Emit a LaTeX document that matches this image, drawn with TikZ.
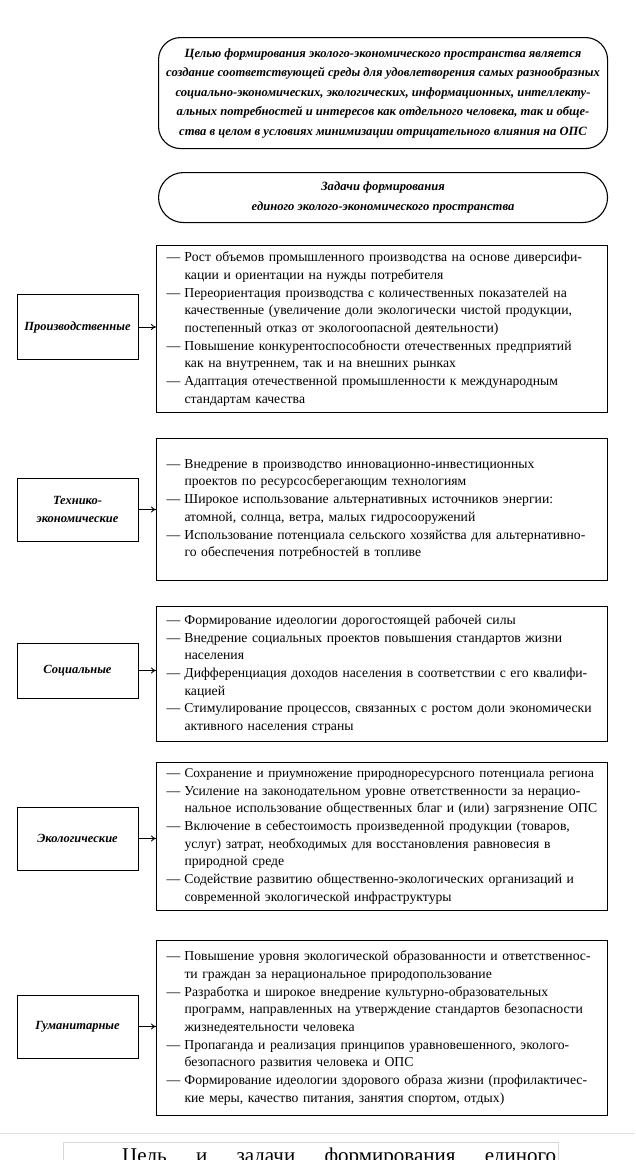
\documentclass[tikz,border=0pt]{standalone}
\usepackage{fontspec}
\setmainfont{Liberation Serif}
\usetikzlibrary{arrows.meta}
\newcommand{\itm}[1]{\hspace*{10pt}\makebox[18pt][l]{—}\mbox{#1}}
\newcommand{\cnt}[1]{\hspace*{28pt}\mbox{#1}}

\begin{document}
\begin{tikzpicture}[x=1pt,y=-1pt,
    goal/.style={draw, line width=1.1pt, rounded corners=22pt, anchor=north west,
      minimum width=449pt, align=center, inner sep=0pt,
      font=\fontsize{12.6}{19.5}\selectfont\bfseries\itshape},
    task/.style={draw, line width=1pt, anchor=north west, text width=451pt,
      inner xsep=0pt, inner ysep=0pt, align=left,
      font=\fontsize{13.7}{17.7}\selectfont},
    kind/.style={draw, line width=1pt, minimum width=121pt, minimum height=65pt,
      align=center, inner sep=2pt,
      font=\fontsize{12.5}{18.5}\selectfont\bfseries\itshape},
    >={To[length=5pt,width=6pt]}]
    \useasboundingbox (0,0) rectangle (635,1160);

    % Goal and heading
    \node[goal, minimum height=111pt] (goal) at (158,37) {%
      Целью формирования эколого-экономического пространства является\\
      создание соответствующей среды для удовлетворения самых разнообразных\\
      социально-экономических, экологических, информационных, интеллекту-\\
      альных потребностей и интересов как отдельного человека, так и обще-\\
      ства в целом в условиях минимизации отрицательного влияния на ОПС};
    \node[goal, minimum height=50pt, rounded corners=25pt] (tasks) at (158,172) {%
      Задачи формирования\\
      единого эколого-экономического пространства};

    % Task groups
    \node[task, minimum height=167pt] (t1) at (156,245) {%
      \itm{Рост объемов промышленного производства на основе диверсифи-}\\
      \cnt{кации и ориентации на нужды потребителя}\\
      \itm{Переориентация производства с количественных показателей на}\\
      \cnt{качественные (увеличение доли экологически чистой продукции,}\\
      \cnt{постепенный отказ от экологоопасной деятельности)}\\
      \itm{Повышение конкурентоспособности отечественных предприятий}\\
      \cnt{как на внутреннем, так и на внешних рынках}\\
      \itm{Адаптация отечественной промышленности к международным}\\
      \cnt{стандартам качества}};
    \node[task, minimum height=142pt] (t2) at (156,438) {%
      \itm{Внедрение в производство инновационно-инвестиционных}\\
      \cnt{проектов по ресурсосберегающим технологиям}\\
      \itm{Широкое использование альтернативных источников энергии:}\\
      \cnt{атомной, солнца, ветра, малых гидросооружений}\\
      \itm{Использование потенциала сельского хозяйства для альтернативно-}\\
      \cnt{го обеспечения потребностей в топливе}};
    \node[task, minimum height=135pt] (t3) at (156,606) {%
      \itm{Формирование идеологии дорогостоящей рабочей силы}\\
      \itm{Внедрение социальных проектов повышения стандартов жизни}\\
      \cnt{населения}\\
      \itm{Дифференциация доходов населения в соответствии с его квалифи-}\\
      \cnt{кацией}\\
      \itm{Стимулирование процессов, связанных с ростом доли экономически}\\
      \cnt{активного населения страны}};
    \node[task, minimum height=148pt] (t4) at (156,762) {%
      \itm{\fontsize{13.3}{17.7}\selectfont Сохранение и приумножение природноресурсного потенциала региона}\\
      \itm{Усиление на законодательном уровне ответственности за нерацио-}\\
      \cnt{нальное использование общественных благ и (или) загрязнение ОПС}\\
      \itm{Включение в себестоимость произведенной продукции (товаров,}\\
      \cnt{услуг) затрат, необходимых для восстановления равновесия в}\\
      \cnt{природной среде}\\
      \itm{Содействие развитию общественно-экологических организаций и}\\
      \cnt{современной экологической инфраструктуры}};
    \node[task, minimum height=175pt] (t5) at (156,940) {%
      \itm{Повышение уровня экологической образованности и ответственнос-}\\
      \cnt{ти граждан за нерациональное природопользование}\\
      \itm{Разработка и широкое внедрение культурно-образовательных}\\
      \cnt{программ, направленных на утверждение стандартов безопасности}\\
      \cnt{жизнедеятельности человека}\\
      \itm{Пропаганда и реализация принципов уравновешенного, эколого-}\\
      \cnt{безопасного развития человека и ОПС}\\
      \itm{Формирование идеологии здорового образа жизни (профилактичес-}\\
      \cnt{кие меры, качество питания, занятия спортом, отдых)}};

    % Kinds of tasks
    \node[kind] (k1) at (77.5,327) {Производственные};
    \node[kind, minimum height=63pt] (k2) at (77.5,509.5) {Технико-\\экономические};
    \node[kind, minimum height=55pt] (k3) at (77.5,670.5) {Социальные};
    \node[kind, minimum height=63pt] (k4) at (77.5,838.5) {Экологические};
    \node[kind, minimum height=63pt] (k5) at (77.5,1026.5) {Гуманитарные};
    \foreach \i in {1,...,5}
      \draw[->, line width=0.8pt] (k\i.east) -- (k\i.east -| t\i.west);

    % caption, cut by the page edge
    \draw[black!12] (0,1133) -- (635,1133);
    \draw[black!15] (63,1142) rectangle (558,1180);
    \node[anchor=base west, inner sep=0pt, font=\fontsize{21}{24}\selectfont] (cap) at (122,1162)
      {\makebox[434pt][s]{Цель \hfill и \hfill задачи \hfill формирования \hfill единого}};
\end{tikzpicture}
\end{document}
